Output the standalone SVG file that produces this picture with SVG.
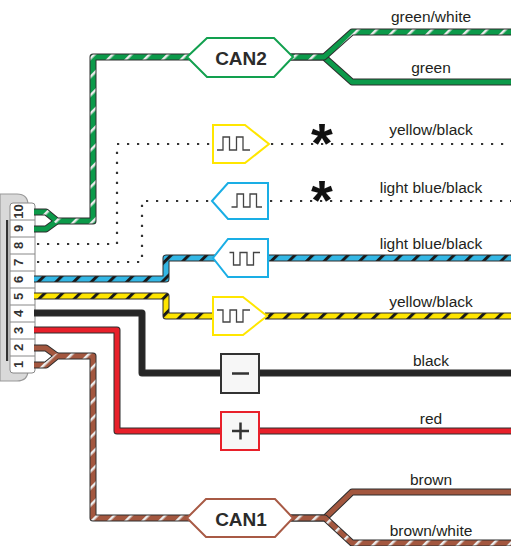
<svg xmlns="http://www.w3.org/2000/svg" width="511" height="546" viewBox="0 0 511 546">
<style>
.o{fill:none;stroke:#2d2d2d;stroke-width:7;stroke-linejoin:round}
.w{fill:none;stroke-width:5;stroke-linejoin:round}
.dot{fill:none;stroke:#333;stroke-width:2.2;stroke-dasharray:2.2 7.8}
.lbl{font-family:"Liberation Sans",Arial,sans-serif;font-size:15.5px;fill:#231f20;text-anchor:middle}
.can{font-family:"Liberation Sans",Arial,sans-serif;font-size:19px;font-weight:bold;fill:#2b2b2b;text-anchor:middle}
.pin{font-family:"Liberation Sans",Arial,sans-serif;font-size:13px;font-weight:bold;fill:#333;text-anchor:middle}
.ast{font-family:"Liberation Sans",Arial,sans-serif;font-size:56px;font-weight:bold;fill:#111;text-anchor:middle}
.pulse{fill:none;stroke:#444;stroke-width:1.3}
.cell{fill:#fff;stroke:#888;stroke-width:1}
</style>
<defs>
<pattern id="pGW" patternUnits="userSpaceOnUse" width="13" height="13" patternTransform="rotate(45)"><rect width="13" height="13" fill="#0c9a4a"/><rect width="2.5" height="13" fill="#ececec"/></pattern>
<pattern id="pBW" patternUnits="userSpaceOnUse" width="12" height="12" patternTransform="rotate(45)"><rect width="12" height="12" fill="#a3573f"/><rect width="2.5" height="12" fill="#ececec"/></pattern>
<pattern id="pBK" patternUnits="userSpaceOnUse" width="12.5" height="12.5" patternTransform="rotate(45)"><rect width="12.5" height="12.5" fill="#33b7e5"/><rect width="3" height="12.5" fill="#1a1a1a"/></pattern>
<pattern id="pYK" patternUnits="userSpaceOnUse" width="12.5" height="12.5" patternTransform="rotate(45)"><rect width="12.5" height="12.5" fill="#ffe500"/><rect width="3" height="12.5" fill="#1a1a1a"/></pattern>
</defs>

<g id="connector">
<path d="M0,194 H17 Q28,194 28,205 V370 Q28,381 17,381 H0 Z" fill="#d9d9d9" stroke="#999" stroke-width="1.2"/>
<rect x="6" y="220" width="2.2" height="141" fill="#333"/>
<rect x="10" y="203" width="25" height="170" rx="3" class="cell"/>
<g stroke="#888" stroke-width="1">
<line x1="10" y1="220" x2="35" y2="220"/><line x1="10" y1="237" x2="35" y2="237"/><line x1="10" y1="254" x2="35" y2="254"/><line x1="10" y1="271" x2="35" y2="271"/><line x1="10" y1="288" x2="35" y2="288"/><line x1="10" y1="305" x2="35" y2="305"/><line x1="10" y1="322" x2="35" y2="322"/><line x1="10" y1="339" x2="35" y2="339"/><line x1="10" y1="356" x2="35" y2="356"/>
</g>
<text class="pin" transform="translate(22.5,211.5) rotate(-90)">10</text>
<text class="pin" transform="translate(22.5,228.5) rotate(-90)">9</text>
<text class="pin" transform="translate(22.5,245.5) rotate(-90)">8</text>
<text class="pin" transform="translate(22.5,262.5) rotate(-90)">7</text>
<text class="pin" transform="translate(22.5,279.5) rotate(-90)">6</text>
<text class="pin" transform="translate(22.5,296.5) rotate(-90)">5</text>
<text class="pin" transform="translate(22.5,313.5) rotate(-90)">4</text>
<text class="pin" transform="translate(22.5,330.5) rotate(-90)">3</text>
<text class="pin" transform="translate(22.5,347.5) rotate(-90)">2</text>
<text class="pin" transform="translate(22.5,364.5) rotate(-90)">1</text>
</g>

<g id="connectors">
<path class="dot" d="M37,244 H117 V144 H213"/>
<path class="dot" d="M271,144 H511"/>
<path class="dot" d="M37,262 H142 V201 H212"/>
<path class="dot" d="M270,201 H511"/>
<path class="o" d="M34,229 H46 L57,221"/>
<path class="o" d="M34,212 H46 L57,221 H93 V57 H192"/>
<path class="w" stroke="#0c9a4a" d="M34,229 H46 L57,221"/>
<path class="w" stroke="url(#pGW)" d="M34,212 H46 L57,221 H93 V57 H192"/>
<path class="o" d="M290,57 H324 L352,82 H515"/>
<path class="w" stroke="#0c9a4a" d="M324,57 L352,82 H515"/>
<path class="o" d="M290,57 H324 L352,32 H515"/>
<path class="w" stroke="url(#pGW)" d="M290,57 H324 L352,32 H515"/>
<path class="o" d="M34,279 H166 V258 H216"/>
<path class="w" stroke="url(#pBK)" d="M34,279 H166 V258 H216"/>
<path class="o" d="M266,258 H515"/>
<path class="w" stroke="url(#pBK)" d="M266,258 H515"/>
<path class="o" d="M34,296 H166 V316 H216"/>
<path class="w" stroke="url(#pYK)" d="M34,296 H166 V316 H216"/>
<path class="o" d="M265,316 H515"/>
<path class="w" stroke="url(#pYK)" d="M265,316 H515"/>
<path class="o" d="M34,313 H142 V373 H224"/>
<path class="w" stroke="#262626" d="M34,313 H142 V373 H224"/>
<path class="o" d="M256,373 H515"/>
<path class="w" stroke="#262626" d="M256,373 H515"/>
<path class="o" d="M34,330 H117 V431 H224"/>
<path class="w" stroke="#e8202a" d="M34,330 H117 V431 H224"/>
<path class="o" d="M256,431 H515"/>
<path class="w" stroke="#e8202a" d="M256,431 H515"/>
<path class="o" d="M34,348 H46 L57,356"/>
<path class="o" d="M34,365 H46 L57,356 H93 V518 H192"/>
<path class="w" stroke="#a3573f" d="M34,348 H46 L57,356"/>
<path class="w" stroke="url(#pBW)" d="M34,365 H46 L57,356 H93 V518 H192"/>
<path class="o" d="M290,518 H325 L352,492 H515"/>
<path class="w" stroke="#a3573f" d="M325,518 L352,492 H515"/>
<path class="o" d="M290,518 H325 L352,543 H515"/>
<path class="w" stroke="url(#pBW)" d="M290,518 H325 L352,543 H515"/>
</g>

<g id="can2">
<polygon points="187,57 207,38 274,38 293,57 274,77 207,77" fill="#fff" stroke="#12a04f" stroke-width="2"/>
<text class="can" x="241" y="64.5">CAN2</text>
</g>
<g id="can1">
<polygon points="187,518 206,499 275,499 293,518 275,537 206,537" fill="#fff" stroke="#a85a45" stroke-width="2"/>
<text class="can" x="241" y="525.5">CAN1</text>
</g>

<g id="pulse-yellow-top">
<polygon points="213,125 245,125 269,144 245,163 213,163" fill="#fff" stroke="#ffe600" stroke-width="2"/>
<path class="pulse" d="M217,150 H223 V137 H229.5 V150 H236.5 V137 H243 V150 H250"/>
</g>
<g id="pulse-blue-top">
<polygon points="212,201 228,183 268,183 268,219 228,219" fill="#fff" stroke="#1aaee5" stroke-width="2"/>
<path class="pulse" d="M231.5,207 H237 V194 H243.5 V207 H250 V194 H256.5 V207 H262"/>
</g>
<g id="pulse-blue-bottom">
<polygon points="213,258 228,239 268,239 268,277 228,277" fill="#fff" stroke="#1aaee5" stroke-width="2"/>
<path class="pulse" d="M229.5,252.5 H233.5 V265 H240 V252.5 H247 V265 H253.5 V252.5 H260"/>
</g>
<g id="pulse-yellow-bottom">
<polygon points="213,297 243,297 267,316 243,335 213,335" fill="#fff" stroke="#ffe600" stroke-width="2"/>
<path class="pulse" d="M217,310 H223 V322 H230 V310 H236.5 V322 H243 V310 H250"/>
</g>
<g id="minus">
<rect x="221" y="354" width="38" height="39" fill="#f7f7f7" stroke="#333" stroke-width="2"/>
<line x1="232" y1="373.5" x2="249" y2="373.5" stroke="#333" stroke-width="2.5"/>
</g>
<g id="plus">
<rect x="221" y="412" width="38" height="38" fill="#f7f7f7" stroke="#e8202a" stroke-width="2"/>
<line x1="232" y1="431" x2="249" y2="431" stroke="#333" stroke-width="2.5"/>
<line x1="240.5" y1="422.5" x2="240.5" y2="439.5" stroke="#333" stroke-width="2.5"/>
</g>

<g id="labels">
<text class="lbl" x="431" y="22">green/white</text>
<text class="lbl" x="431" y="73">green</text>
<text class="lbl" x="431" y="135">yellow/black</text>
<text class="lbl" x="431" y="193">light blue/black</text>
<text class="lbl" x="431" y="249">light blue/black</text>
<text class="lbl" x="431" y="307">yellow/black</text>
<text class="lbl" x="431" y="366">black</text>
<text class="lbl" x="431" y="424">red</text>
<text class="lbl" x="431" y="485">brown</text>
<text class="lbl" x="431" y="536">brown/white</text>
<text class="ast" x="322" y="162">*</text>
<text class="ast" x="322" y="219">*</text>
</g>
</svg>
